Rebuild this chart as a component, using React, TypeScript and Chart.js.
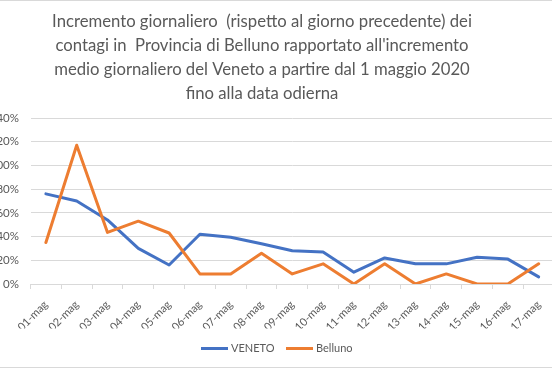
import React, { useEffect, useRef } from "react";
import { Chart, registerables } from "chart.js";

Chart.register(...registerables);

const categories = [
  "01-mag", "02-mag", "03-mag", "04-mag", "05-mag", "06-mag", "07-mag", "08-mag", "09-mag",
  "10-mag", "11-mag", "12-mag", "13-mag", "14-mag", "15-mag", "16-mag", "17-mag",
];
const veneto = [76, 70, 54, 30, 16, 42, 39.5, 34, 28, 27, 10, 22, 17, 17, 22.5, 21, 6];
const belluno = [35, 117, 43.5, 53, 43, 8.5, 8.5, 26, 8.5, 17, 0, 17, 0, 8.5, 0, 0, 17];
const yMin = 0;
const yMax = 140;
const yStep = 20;
const titleLines = [
  "Incremento giornaliero  (rispetto al giorno precedente) dei",
  "contagi in  Provincia di Belluno rapportato all'incremento",
  "medio giornaliero del Veneto a partire dal 1 maggio 2020",
  "fino alla data odierna",
];
const seriesNames = ["VENETO", "Belluno"];
const seriesColors = ["#4472C4", "#ED7D31"];

const FONT = 'Lato, "Liberation Sans", sans-serif';
const TEXT = "#595959";
const GRID = "#d9d9d9";
const OFFSET = 33;
const CW = 590;
const CH = 368;

function legendLine(color: string): HTMLCanvasElement {
  const c = document.createElement("canvas");
  c.width = 27;
  c.height = 3;
  const g = c.getContext("2d");
  if (g) {
    g.fillStyle = color;
    g.fillRect(0, 0, 27, 3);
  }
  return c;
}

export default function App() {
  const ref = useRef<HTMLCanvasElement | null>(null);

  useEffect(() => {
    if (!ref.current) return;
    const framePlugin = {
      id: "frame",
      beforeDraw(chart: any) {
        const ctx = chart.ctx;
        ctx.save();
        ctx.fillStyle = "#ffffff";
        ctx.fillRect(0, 0, chart.width, chart.height);
        ctx.strokeStyle = GRID;
        ctx.lineWidth = 1;
        ctx.beginPath();
        ctx.moveTo(0, 0.5);
        ctx.lineTo(chart.width, 0.5);
        ctx.moveTo(0, chart.height - 0.5);
        ctx.lineTo(chart.width, chart.height - 0.5);
        ctx.stroke();
        ctx.restore();
      },
      afterLayout(chart: any) {
        if (chart.legend) {
          chart.legend.left += 16;
          chart.legend.right += 16;
        }
      },
    };

    const chart = new Chart(ref.current, {
      type: "line",
      data: {
        labels: categories,
        datasets: [
          {
            label: seriesNames[0],
            data: veneto,
            borderColor: seriesColors[0],
            backgroundColor: seriesColors[0],
            borderWidth: 3,
            pointRadius: 0,
            pointStyle: legendLine(seriesColors[0]),
            tension: 0,
            borderJoinStyle: "round",
            borderCapStyle: "round",
            order: 1,
          },
          {
            label: seriesNames[1],
            data: belluno,
            borderColor: seriesColors[1],
            backgroundColor: seriesColors[1],
            borderWidth: 3,
            pointRadius: 0,
            pointStyle: legendLine(seriesColors[1]),
            tension: 0,
            borderJoinStyle: "round",
            borderCapStyle: "round",
            order: 0,
          },
        ],
      },
      options: {
        animation: false,
        responsive: false,
        maintainAspectRatio: false,
        layout: { padding: { left: 0, right: 0, top: 0, bottom: 4.5 } },
        plugins: {
          tooltip: { enabled: false },
          title: {
            display: true,
            text: titleLines,
            color: TEXT,
            font: { family: FONT, size: 16.7, weight: "normal", lineHeight: "24px" },
            padding: { top: 10, bottom: 12 },
          },
          legend: {
            position: "bottom",
            labels: {
              color: TEXT,
              font: { family: FONT, size: 11 },
              usePointStyle: true,
              pointStyleWidth: 22,
              boxHeight: 3,
              padding: 14,
              sort: (a: any, b: any) => a.datasetIndex - b.datasetIndex,
            },
          },
        },
        scales: {
          x: {
            offset: true,
            grid: {
              display: true,
              drawOnChartArea: false,
              drawTicks: true,
              tickLength: 5,
              color: GRID,
              offset: true,
            },
            border: { display: true, color: GRID },
            ticks: {
              autoSkip: false,
              minRotation: 45,
              maxRotation: 45,
              color: TEXT,
              font: { family: FONT, size: 11 },
              padding: 9,
            },
            afterFit(scale: any) {
              scale.height = 44.5;
            },
          },
          y: {
            min: yMin,
            max: yMax,
            grid: { color: GRID, drawTicks: false },
            border: { display: false },
            ticks: {
              stepSize: yStep,
              color: TEXT,
              font: { family: FONT, size: 11.5 },
              padding: 11.5,
              callback: (v: any) => v + "%",
            },
            afterFit(scale: any) {
              scale.width = 30.5 + OFFSET;
            },
          },
        },
      },
      plugins: [framePlugin],
    } as any);
    return () => chart.destroy();
  }, []);

  return (
    <div
      style={{
        position: "fixed",
        left: 0,
        top: 0,
        width: 552,
        height: 368,
        overflow: "hidden",
        background: "#fff",
      }}
    >
      <div style={{ position: "absolute", left: -OFFSET, top: 0, width: CW, height: CH }}>
        <canvas ref={ref} width={CW} height={CH} style={{ width: CW, height: CH, display: "block" }} />
      </div>
    </div>
  );
}
